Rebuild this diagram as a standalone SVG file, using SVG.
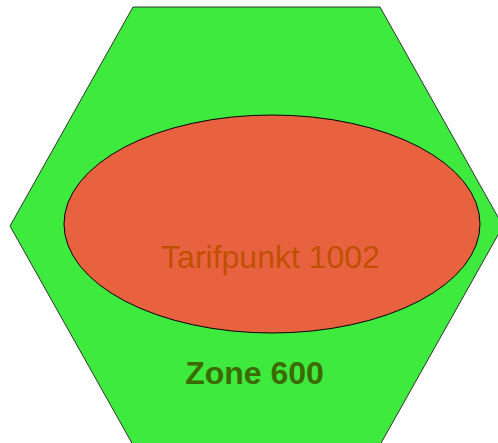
<svg xmlns="http://www.w3.org/2000/svg" width="498" height="443" viewBox="0 0 498 443">
<style>
.zone{fill:#3fea3f;stroke:#333;stroke-width:1}
.tp{fill:#e96240;stroke:#000;stroke-width:1}
.t1{font-family:"Liberation Sans",Arial,sans-serif;font-size:32px;fill:#c05000;text-anchor:middle}
.t2{font-family:"Liberation Sans",Arial,sans-serif;font-size:32px;font-weight:bold;fill:#3a6a00;text-anchor:middle}
</style>
<g id="zone600">
<polygon class="zone" points="133,7 380,7 503,226 380,445 133,445 10,226"/>
<text class="t2" x="254.5" y="384">Zone 600</text>
</g>
<g id="tarifpunkt1002">
<ellipse class="tp" cx="272" cy="224" rx="208" ry="109"/>
<text class="t1" x="270.5" y="268">Tarifpunkt 1002</text>
</g>
<g id="connectors"/>
</svg>
